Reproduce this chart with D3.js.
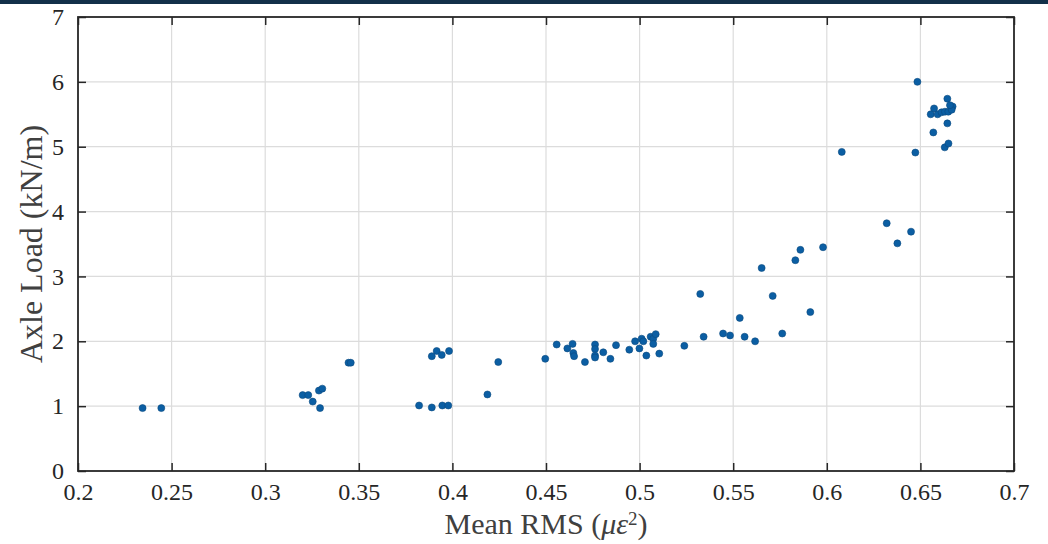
<!DOCTYPE html>
<html lang="en">
<head>
<meta charset="utf-8" />
<title>Axle Load vs Mean RMS</title>
<style>
  body { margin:0; background:#fff; }
  svg  { display:block; }
  .tick text { font-family:"Liberation Serif","Times New Roman",serif; fill:#262626; }
  .label     { font-family:"Liberation Serif","Times New Roman",serif; fill:#404040; }
</style>
</head>
<body>
<svg width="1048" height="544"></svg>
<script src="https://cdn.jsdelivr.net/npm/d3@7"></script>
<script>
/* ---------- DATA ---------- */
const xTicks = [0.2,0.25,0.3,0.35,0.4,0.45,0.5,0.55,0.6,0.65,0.7];
const yTicks = [0,1,2,3,4,5,6,7];

// mean RMS strain
const meanRMS = [
  0.2345,0.2445,
  0.320,0.323,0.3254,0.3293,0.3287,0.3305,0.3445,0.3457,
  0.3822,0.389,0.3946,0.3978,0.389,0.3916,0.3943,0.3982,
  0.4187,0.4245,0.4496,0.4557,0.4614,0.4642,0.4646,0.465,0.4708,
  0.4762,0.4762,0.4762,0.4762,0.4806,0.4844,0.4874,0.4945,0.4976,0.4999,
  0.5011,0.502,0.5036,0.5059,0.5073,0.5086,0.5073,0.5105,
  0.5239,0.5324,0.5342,0.5446,0.5483,0.5535,0.5561,0.5617,0.5652,0.5711,
  0.5762,0.5832,0.5859,0.5912,0.598,0.608,
  0.632,0.6377,0.645,0.6473,0.6484,
  0.6644,0.6573,0.6555,0.6592,0.6613,0.6631,0.6649,0.6672,0.6667,0.6658,
  0.6644,0.6569,0.663,0.665
];
// axle load (kN/m)
const axleLoad = [
  0.97,0.97,
  1.17,1.17,1.07,0.97,1.24,1.27,1.67,1.67,
  1.01,0.98,1.01,1.01,1.77,1.85,1.79,1.85,
  1.18,1.68,1.73,1.95,1.89,1.96,1.82,1.77,1.68,
  1.95,1.88,1.78,1.75,1.83,1.73,1.94,1.87,2.0,1.89,
  2.04,2.0,1.78,2.07,2.04,2.11,1.96,1.81,
  1.93,2.73,2.07,2.12,2.09,2.36,2.07,2.0,3.13,2.70,
  2.12,3.25,3.41,2.45,3.45,4.92,
  3.82,3.51,3.69,4.91,6.0,
  5.74,5.59,5.50,5.50,5.53,5.54,5.54,5.62,5.57,5.64,
  5.36,5.22,4.99,5.05
];

/* ---------- LAYOUT ---------- */
const L = 78, R = 1014, T = 17, B = 471;
const serif = '"Liberation Serif","Times New Roman",serif';
const svg = d3.select("svg");

// dark strip along the top edge of the picture
svg.append("rect").attr("x",0).attr("y",0).attr("width",1048).attr("height",4).attr("fill","#123049");

const x = d3.scaleLinear().domain([0.2,0.7]).range([L,R]);
const y = d3.scaleLinear().domain([0,7]).range([B,T]);

/* grid */
const grid = svg.append("g").attr("stroke","#dcdcdc").attr("stroke-width",1.2);
grid.selectAll(".gx").data(xTicks.slice(1,-1)).join("line")
    .attr("x1",d=>x(d)).attr("x2",d=>x(d)).attr("y1",T).attr("y2",B);
grid.selectAll(".gy").data(yTicks.slice(1,-1)).join("line")
    .attr("y1",d=>y(d)).attr("y2",d=>y(d)).attr("x1",L).attr("x2",R);

/* axes (ticks inward, like MATLAB box) */
const tickFmt = d3.format("~g");
const axBottom = svg.append("g").attr("transform",`translate(0,${B})`)
    .call(d3.axisBottom(x).tickValues(xTicks).tickFormat(tickFmt).tickSize(-8).tickPadding(12));
const axTop = svg.append("g").attr("transform",`translate(0,${T})`)
    .call(d3.axisTop(x).tickValues(xTicks).tickSize(-8).tickFormat(""));
const axLeft = svg.append("g").attr("transform",`translate(${L},0)`)
    .call(d3.axisLeft(y).tickValues(yTicks).tickFormat(tickFmt).tickSize(-8).tickPadding(14));
const axRight = svg.append("g").attr("transform",`translate(${R},0)`)
    .call(d3.axisRight(y).tickValues(yTicks).tickSize(-8).tickFormat(""));

[axBottom,axTop,axLeft,axRight].forEach(g=>{
  g.attr("font-family",serif);
  g.select(".domain").remove();
  g.selectAll(".tick line").attr("stroke","#262626").attr("stroke-width",1.5);
  g.selectAll(".tick text").attr("font-size",24).attr("font-family",serif);
});

svg.append("rect").attr("x",L).attr("y",T).attr("width",R-L).attr("height",B-T)
   .attr("fill","none").attr("stroke","#262626").attr("stroke-width",1.8);

/* points */
svg.append("g").selectAll("circle")
   .data(meanRMS.map((v,i)=>[v,axleLoad[i]]))
   .join("circle")
   .attr("cx",d=>x(d[0])).attr("cy",d=>y(d[1])).attr("r",3.5)
   .attr("fill","#0b5ea3").attr("stroke","#0a4a80").attr("stroke-width",0.6);

/* labels */
svg.append("text").attr("class","label")
   .attr("x",(L+R)/2).attr("y",534).attr("text-anchor","middle").attr("font-size",30)
   .html('Mean RMS (<tspan font-style="italic">με</tspan><tspan dy="-9" font-size="19">2</tspan><tspan dy="9">)</tspan>');

svg.append("text").attr("class","label")
   .attr("transform",`translate(42,${(T+B)/2}) rotate(-90)`)
   .attr("text-anchor","middle").attr("font-size",32)
   .text("Axle Load (kN/m)");
</script>
</body>
</html>
